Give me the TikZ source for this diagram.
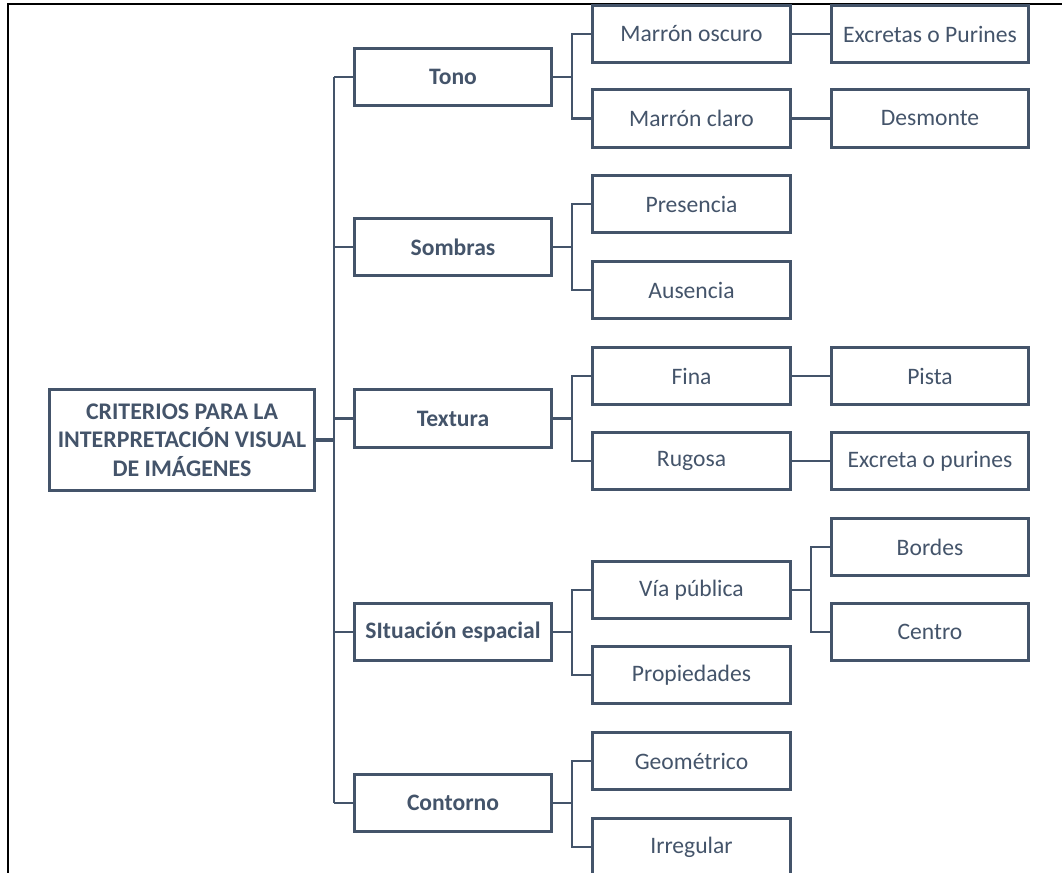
\documentclass[tikz,border=0pt]{standalone}
\usepackage{fontspec}
\setmainfont{Carlito}
\usetikzlibrary{calc}
\definecolor{pizarra}{HTML}{44546A}

\begin{document}
\begin{tikzpicture}[x=0.75pt,y=-0.75pt,
    caja/.style={draw=pizarra,line width=2.4pt,text=pizarra,minimum width=148pt,minimum height=43pt,inner sep=2pt,font=\fontsize{17.7}{20.6}\selectfont},
    cajab/.style={caja,font=\fontsize{17.7}{20.6}\selectfont\bfseries},
    raiz/.style={cajab,minimum width=199pt,minimum height=76pt,align=center,font=\fontsize{17.9}{21.2}\selectfont\bfseries},
    rama/.style={draw=pizarra,line width=1.6pt}]
\useasboundingbox (0,0) rectangle (1062,873);
% marco
\draw[line width=1.1pt] (8,873) -- (8,4) -- (1062,4);

% raiz y primer nivel
\node[raiz] (criterios) at (182,440) {CRITERIOS PARA LA\\INTERPRETACIÓN VISUAL\\DE IMÁGENES};
\node[cajab] (tono) at (453,77) {Tono};
\node[cajab] (sombras) at (453,247) {Sombras};
\node[cajab] (textura) at (453,418.5) {Textura};
\node[cajab] (situacion) at (453,632) {SItuación espacial};
\node[cajab] (contorno) at (453,803) {Contorno};

% segundo nivel
\node[caja] (moscuro) at (691.5,34) {Marrón oscuro};
\node[caja] (mclaro) at (691.5,118.5) {Marrón claro};
\node[caja] (presencia) at (691.5,204) {Presencia};
\node[caja] (ausencia) at (691.5,290) {Ausencia};
\node[caja] (fina) at (691.5,376) {Fina};
\node[caja] (rugosa) at (691.5,461) {Rugosa};
\node[caja] (via) at (691.5,590) {Vía pública};
\node[caja] (propiedades) at (691.5,675) {Propiedades};
\node[caja] (geometrico) at (691.5,761) {Geométrico};
\node[caja] (irregular) at (691.5,847) {Irregular};

% tercer nivel
\node[caja] (excretas) at (930,34) {Excretas o Purines};
\node[caja] (desmonte) at (930,118.5) {Desmonte};
\node[caja] (pista) at (930,376) {Pista};
\node[caja] (excreta) at (930,461) {Excreta o purines};
\node[caja] (bordes) at (930,547) {Bordes};
\node[caja] (centro) at (930,632) {Centro};

% tronco
\draw[rama,line width=2.4pt] (criterios.east) -- ++(18,0) coordinate (bus);
\draw[rama] (bus |- tono) -- (bus |- contorno);
\foreach \n in {tono,sombras,textura,situacion,contorno}
  \draw[rama] (bus |- \n) -- (\n.west);

% ramas en codo
\foreach \p/\a/\b in {tono/moscuro/mclaro,sombras/presencia/ausencia,textura/fina/rugosa,situacion/via/propiedades,contorno/geometrico/irregular,via/bordes/centro}
  \draw[rama] (\p.east) -- ++(19,0) |- (\a.west) (\p.east) -- ++(19,0) |- (\b.west);

% enlaces directos
\draw[rama] (moscuro) -- (excretas);
\draw[rama] (mclaro) -- (desmonte);
\draw[rama] (fina) -- (pista);
\draw[rama] (rugosa) -- (excreta);
\end{tikzpicture}
\end{document}
